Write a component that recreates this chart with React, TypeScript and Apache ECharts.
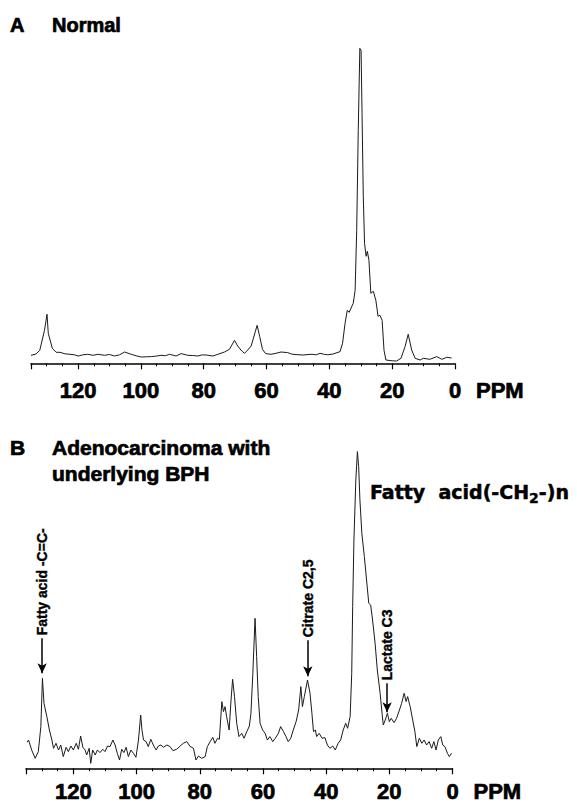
import React, { useEffect, useRef } from 'react';
import * as echarts from 'echarts';

// ---- data (ppm, intensity in arbitrary units) ----
const ppmLabelStep = 20;
const axisUnit = 'PPM';

const panelATitle = 'Normal';
const panelBTitleLine1 = 'Adenocarcinoma with';
const panelBTitleLine2 = 'underlying BPH';

const normalSpectrum: number[][] = [
  [135, 8], [134.8, 8.3], [133.4, 9.3], [132.2, 13], [130.7, 33], [129.9, 49], [129.5, 30], [128.2, 15],
  [127, 11], [125.8, 11], [124.2, 9.5], [122.6, 9], [121.2, 8.5], [120, 7.3], [118.4, 8.5], [116.9, 9],
  [115.2, 8], [113.7, 9], [111.6, 8], [110, 8.8], [108.4, 7.3], [106.8, 8.5], [105.2, 11.3], [103.1, 9],
  [101.5, 7.5], [99.9, 6.3], [98.2, 6.5], [96.7, 6.7], [95.1, 7.2], [93.6, 8], [92.2, 7.6], [90.9, 9],
  [88.8, 7.3], [87.2, 9.7], [85.1, 8], [83.5, 7.8], [81.9, 7.3], [80.5, 8.4], [79.2, 8.3], [77.1, 7.3],
  [75.5, 9], [73.4, 11.3], [71.8, 14], [70.2, 23], [69.2, 17.3], [67.9, 12.3], [67, 10], [66, 13.3],
  [64.9, 17.3], [63, 38], [62.2, 27], [61.3, 14], [60.3, 9.7], [58.6, 9], [57, 10], [55.4, 11.3],
  [53.3, 10.7], [52, 9.2], [50.6, 8.7], [48.3, 8.3], [46.8, 8.8], [45.5, 9], [44.2, 8.5], [43, 10],
  [41.6, 9], [40.5, 8.5], [38.8, 9.3], [36.6, 11.7], [35.8, 20], [35, 40], [34.3, 53], [33.7, 51],
  [32.4, 60], [31.8, 73], [31.3, 133], [30.8, 233], [30.3, 315], [29.9, 313], [29.6, 250], [29.2, 167],
  [28.8, 120], [28.3, 107], [27.9, 112], [27.4, 103], [26.8, 70], [26, 72], [25.2, 63], [24.5, 47],
  [23.9, 48], [23.2, 43], [22.6, 13], [22, 3.3], [20, 2.5], [18.6, 2.3], [17.2, 5], [15.9, 16.7],
  [14.9, 29], [13.8, 13.3], [12.7, 5], [11.1, 3.3], [10.1, 5], [8, 4], [5.8, 6.7], [4.2, 4],
  [2.6, 6], [1.1, 5.3],
];

const tumorSpectrum: number[][] = [
  [134.6, 26], [134.2, 28.3], [133.2, 18.3], [132.1, 10], [131.1, 16.7], [130.3, 41.7], [129.8, 90],
  [129.3, 65], [128.4, 51.7], [127.6, 38.3], [126.8, 28.3], [126.3, 20], [125.5, 25], [124.7, 18.3],
  [124, 23.3], [123.2, 11.7], [122.3, 21], [121.6, 16.7], [120.8, 22.3], [120, 18.3], [119.1, 25],
  [118.4, 19], [117.7, 32.3], [117, 21], [116.3, 18.3], [115.8, 13.3], [115, 20], [114.5, 5],
  [113.9, 18.3], [113.1, 13.3], [112.4, 18.3], [111.6, 15.7], [110.7, 19], [110, 16.7], [109.2, 22.3],
  [108.4, 21.7], [107.5, 28.3], [106.8, 23.3], [106.1, 15], [105.4, 8.3], [104.7, 19], [104, 15.7],
  [103.3, 21], [102.6, 11.7], [101.8, 18.3], [101, 15], [100.2, 11], [99.4, 28.3], [98.7, 53.3],
  [98.3, 38.3], [97.8, 28.3], [97, 26.7], [96.3, 21.7], [95.5, 29], [94.7, 23.3], [93.8, 18.3],
  [93.1, 22.3], [92.3, 23.3], [91.5, 21], [90.4, 23.3], [89.4, 21.7], [88.5, 17.7], [87.3, 19],
  [86.2, 22.3], [85.2, 25], [84.1, 26.7], [83.1, 22], [82, 20], [81.2, 8.3], [80.4, 12.3], [79.4, 10],
  [78.3, 11.7], [77.6, 21.7], [76.7, 26.7], [75.9, 31], [75.2, 25], [74.4, 30], [73.8, 29], [73, 66.7],
  [72.5, 56.7], [72, 61.7], [71.5, 51.7], [70.7, 38.3], [70.1, 68.3], [69.6, 89], [69, 71.7], [68.3, 45],
  [67.6, 31.7], [66.7, 35], [66, 30], [65.1, 36.7], [64.3, 42.3], [63.8, 55], [63.2, 95], [62.5, 150],
  [62, 111.7], [61.5, 71.7], [60.9, 45], [60.1, 38.3], [59.3, 35], [58.6, 28.3], [57.8, 31.7],
  [56.9, 26.7], [56.1, 30], [55.1, 35], [54.4, 41.7], [53.5, 36.7], [52.7, 31.7], [52, 26.7], [51.2, 30],
  [50.4, 38.3], [49.5, 46.7], [48.7, 58.3], [48, 81.7], [47.5, 61.7], [46.9, 71.7], [45.9, 88.3],
  [45.1, 75], [44.5, 55], [44, 36.7], [43.4, 38.3], [43, 31.7], [42.2, 35], [41.3, 30], [40.4, 30.7],
  [39.6, 23.3], [38.8, 20], [37.9, 22.3], [37.1, 18.3], [36.2, 25], [35.4, 28.3], [34.6, 38.3],
  [33.8, 45], [33.2, 40], [32.4, 51.7], [31.9, 95], [31.6, 161.7], [31.2, 228.3], [30.6, 288.3],
  [30.1, 316.7], [29.7, 301.7], [29.3, 268.3], [28.7, 235], [27.9, 211.7], [27.2, 188.3], [26.5, 165],
  [25.9, 163.3], [25.3, 148.3], [24.5, 125], [23.8, 98.3], [22.9, 75], [22.3, 55], [21.9, 43.3],
  [21.3, 48.3], [20.6, 55], [20, 46.7], [19.4, 50], [18.5, 45.7], [17.7, 50], [16.8, 58.3], [16.1, 65],
  [15.3, 75], [14.7, 66.7], [14.2, 71.7], [13.4, 61.7], [12.6, 48.3], [11.9, 36.7], [11.3, 21.7],
  [10.5, 30], [9.7, 25], [9, 28.3], [8.2, 23.3], [7.4, 26.7], [6.6, 20], [5.9, 26.7], [5.2, 18.3],
  [4.5, 28.3], [3.7, 31.7], [3.1, 23.3], [2.4, 21.7], [1.6, 15], [1, 11.7], [0.3, 15],
];

// annotations in panel B: label, ppm position, arrow tip, arrow top
const annotationLabels = ['Fatty acid -C=C-', 'Citrate C2,5', 'Lactate C3'];
const annotationPpm = [129.9, 45.8, 20.7];
const annotationTip = [95, 92, 56];
const annotationTop = [130, 128, 85];

const FONT = '"Liberation Sans", Arial, Helvetica, sans-serif';
const WIDE_FONT = '"DejaVu Sans", "Liberation Sans", sans-serif';

function makeXAxis(gridIndex: number, margin: number) {
  return {
    type: 'value',
    gridIndex,
    min: 0,
    max: 135,
    interval: ppmLabelStep,
    inverse: true,
    axisLine: { show: true, onZero: false, lineStyle: { color: '#000', width: 1.5 } },
    axisTick: { show: true, length: 6, lineStyle: { color: '#000', width: 1.2 } },
    minorTick: { show: true, splitNumber: 4, length: 3, lineStyle: { color: '#000', width: 1 } },
    splitLine: { show: false },
    minorSplitLine: { show: false },
    axisLabel: {
      margin,
      color: '#000',
      fontSize: 22,
      fontWeight: 'bold',
      fontFamily: FONT,
      textBorderColor: '#000',
      textBorderWidth: 0.7,
      formatter: (v: number) => (v % ppmLabelStep === 0 ? String(v) : ''),
    },
  };
}

function makeYAxis(gridIndex: number) {
  return { type: 'value', gridIndex, min: 0, max: 320, show: false };
}

function textEl(text: string, x: number, y: number, size: number, extra: any = {}) {
  return {
    type: 'text',
    x,
    y,
    silent: true,
    style: {
      text,
      fill: '#000',
      font: `bold ${size}px ${FONT}`,
      align: 'left',
      verticalAlign: 'middle',
      textAlign: 'left',
      textVerticalAlign: 'middle',
      stroke: '#000',
      lineWidth: 0.7,
      ...extra,
    },
  };
}

export default function App() {
  const ref = useRef<HTMLDivElement>(null);

  useEffect(() => {
    if (!ref.current) return;
    const chart = echarts.init(ref.current, null, { renderer: 'svg' });
    const option: any = {
      animation: false,
      backgroundColor: '#fff',
      grid: [
        { left: 31, right: 122, top: 43.3, height: 320 },
        { left: 26, right: 124.5, top: 448.3, height: 320 },
      ],
      xAxis: [makeXAxis(0, 16), makeXAxis(1, 12)],
      yAxis: [makeYAxis(0), makeYAxis(1)],
      series: [
        {
          type: 'line',
          xAxisIndex: 0,
          yAxisIndex: 0,
          data: normalSpectrum,
          showSymbol: false,
          symbol: 'none',
          silent: true,
          lineStyle: { color: '#1a1a1a', width: 1 },
        },
        {
          type: 'line',
          xAxisIndex: 1,
          yAxisIndex: 1,
          data: tumorSpectrum,
          showSymbol: false,
          symbol: 'none',
          silent: true,
          lineStyle: { color: '#1a1a1a', width: 1 },
          markLine: {
            silent: true,
            symbol: ['none', 'arrow'],
            symbolSize: [7, 10],
            label: { show: false },
            lineStyle: { color: '#000', width: 1.5, type: 'solid' },
            data: annotationPpm.map((p, i) => [
              { coord: [p, annotationTop[i]] },
              { coord: [p, annotationTip[i]] },
            ]),
          },
        },
      ],
    };
    chart.setOption(option);

    const graphics: any[] = [
      textEl('A', 10, 25, 20),
      textEl(panelATitle, 52, 25, 20),
      textEl('B', 10, 447, 21),
      textEl(panelBTitleLine1, 52, 447, 21),
      textEl(panelBTitleLine2, 52, 473, 21),
      {
        type: 'text',
        x: 370,
        y: 479,
        silent: true,
        style: {
          text: '{a|Fatty  acid(-CH}{s|2}{a|-)n}',
          fill: '#000',
          align: 'left',
          verticalAlign: 'top',
          textAlign: 'left',
          textVerticalAlign: 'top',
          rich: {
            a: {
              font: `bold 19px ${WIDE_FONT}`, lineHeight: 26,
              verticalAlign: 'middle', fill: '#000', stroke: '#000', lineWidth: 0.5,
            },
            s: {
              font: `bold 14px ${WIDE_FONT}`, verticalAlign: 'bottom',
              fill: '#000', stroke: '#000', lineWidth: 0.4,
            },
          },
        },
      },
    ];

    // unit labels next to axis ends
    const endA = chart.convertToPixel({ xAxisIndex: 0, yAxisIndex: 0 }, [0, 0]) as number[];
    const endB = chart.convertToPixel({ xAxisIndex: 1, yAxisIndex: 1 }, [0, 0]) as number[];
    graphics.push(textEl(axisUnit, endA[0] + 21, endA[1] + 27, 22));
    graphics.push(textEl(axisUnit, endB[0] + 21, endB[1] + 23, 22));

    annotationLabels.forEach((label, i) => {
      const p = chart.convertToPixel({ xAxisIndex: 1, yAxisIndex: 1 }, [annotationPpm[i], annotationTop[i] + 3]) as number[];
      graphics.push({
        type: 'text',
        x: p[0],
        y: p[1],
        rotation: Math.PI / 2,
        silent: true,
        style: {
          text: label,
          fill: '#000',
          font: `bold 14px ${FONT}`,
          align: 'left',
          verticalAlign: 'middle',
          textAlign: 'left',
          textVerticalAlign: 'middle',
          stroke: '#000',
          lineWidth: 0.4,
        },
      });
    });

    chart.setOption({ graphic: graphics });

    return () => chart.dispose();
  }, []);

  return (
    <div
      ref={ref}
      style={{ position: 'absolute', left: 0, top: 0, width: 577, height: 803, background: '#fff' }}
    />
  );
}
